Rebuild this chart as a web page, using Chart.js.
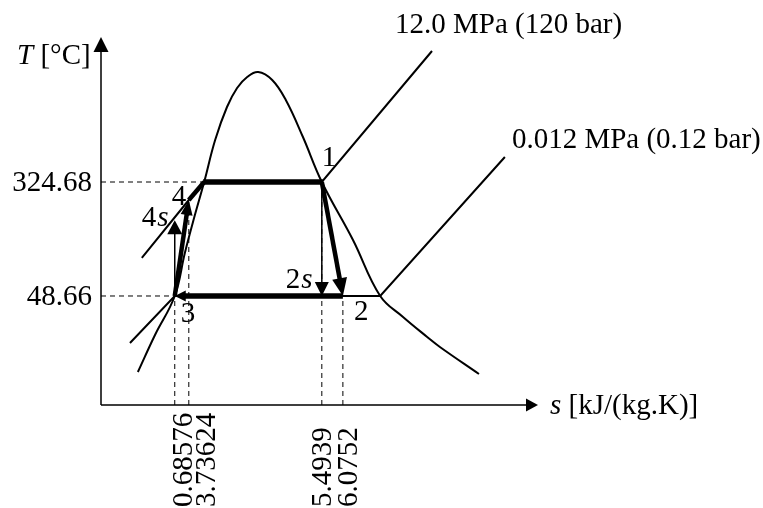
<!DOCTYPE html>
<html>
<head>
<meta charset="utf-8">
<script src="https://cdn.jsdelivr.net/npm/chart.js@4.4.1/dist/chart.umd.min.js"></script>
<style>
  html, body { margin: 0; padding: 0; background: #fff; }
  #wrap { width: 763px; height: 508px; position: relative; }
</style>
</head>
<body>
<div id="wrap"><canvas id="c"></canvas></div>
<script>
// schematic T-s diagram, x = schematic entropy position, y = temperature in °C
const domeS = [8.4, 12.3, 16.8, 19.1, 21.2, 23.5, 26.0, 28.7, 31.0, 33.3, 35.8, 39.0, 42.1, 46.0, 50.3, 57.4, 63.6, 68.8, 74.3, 77.2, 86.1];
const domeT = [-135.4, -45.8, 48.66, 152.8, 237.5, 324.68, 426.4, 506.3, 552.3, 578.9, 591.0, 571.7, 523.2, 433.6, 324.68, 184.2, 48.66, -2.2, -50.6, -74.8, -140.2];

const highPS = [9.3, 20.0, 23.5, 50.3, 75.4];
const highPT = [140.7, 281.1, 324.68, 324.68, 641.9];
const lowPS = [6.6, 16.8, 63.6, 92.0];
const lowPT = [-65.1, 48.66, 48.66, 385.2];

const stateNames = ['1', '2s', '2', '3', '4s', '4'];
const stateS = [50.3, 50.3, 55.1, 16.8, 16.8, 20.0];
const stateT = [324.68, 48.66, 48.66, 48.66, 232.0, 281.1];

// processes drawn as arrows (state index from -> to)
const arrowFrom = [0, 0, 2, 3, 3];
const arrowTo = [2, 1, 3, 5, 4];

const tempTicks = [48.66, 324.68];
const tempTickEndS = [16.8, 23.5];
const entropyTickPos = [16.8, 20.0, 50.3, 55.1];
const entropyTickLabels = ['0.68576', '3.73624', '5.4939', '6.0752'];
const entropyTickEndT = [48.66, 281.1, 324.68, 48.66];

const highPLabel = '12.0 MPa (120 bar)';
const lowPLabel = '0.012 MPa (0.12 bar)';

const Y_MIN = -215.3, Y_MAX = 675.8;
const FONT = '"Liberation Serif", "Times New Roman", serif';
const FS = '29px ';

const pts = (xs, ys) => xs.map((x, i) => ({ x: x, y: ys[i] }));

const lineDs = (data, extra) => Object.assign({
  data: data, showLine: true, pointRadius: 0, borderColor: '#000',
  borderWidth: 2, tension: 0, fill: false
}, extra || {});

const datasets = [
  lineDs(pts(domeS, domeT), { tension: 0.4 }),
  lineDs(pts(highPS, highPT)),
  lineDs(pts(lowPS, lowPT))
];
tempTicks.forEach((t, i) => {
  datasets.push(lineDs([{ x: 0, y: t }, { x: tempTickEndS[i], y: t }], { borderWidth: 1, borderDash: [5, 4] }));
});
entropyTickPos.forEach((s, i) => {
  datasets.push(lineDs([{ x: s, y: Y_MIN }, { x: s, y: entropyTickEndT[i] }], { borderWidth: 1, borderDash: [5, 4] }));
});

// style for each arrow: line width, head length, head width
const arrowStyle = [
  { lw: 4.5, len: 18, w: 15 },
  { lw: 1.5, len: 14, w: 14 },
  { lw: 5.5, len: 11, w: 11 },
  { lw: 4.5, len: 15, w: 12 },
  { lw: 1.5, len: 14, w: 15 }
];
// label offsets (pixels) from each state point
const stateLabelOffset = [[0, -16], [-36, -8], [11, 24], [6, 26], [-33, 6], [-17, 5]];
const tickLabelShift = [7, 16, -1, 4];

function drawArrow(ctx, x0, y0, x1, y1, st) {
  const a = Math.atan2(y1 - y0, x1 - x0);
  const c = Math.cos(a), s = Math.sin(a);
  const bx = x1 - st.len * c, by = y1 - st.len * s;
  ctx.lineWidth = st.lw;
  ctx.lineCap = 'butt';
  ctx.beginPath();
  ctx.moveTo(x0, y0);
  ctx.lineTo(bx + c * 2, by + s * 2);
  ctx.stroke();
  ctx.beginPath();
  ctx.moveTo(x1, y1);
  ctx.lineTo(bx - s * st.w / 2, by + c * st.w / 2);
  ctx.lineTo(bx + s * st.w / 2, by - c * st.w / 2);
  ctx.closePath();
  ctx.fill();
}

function drawLabel(ctx, text, x, y) {
  // digits upright, trailing "s" in italics
  const m = text.match(/^(\d)(s?)$/);
  ctx.font = FS + FONT;
  ctx.fillText(m[1], x, y);
  if (m[2]) {
    const w = ctx.measureText(m[1]).width;
    ctx.font = 'italic ' + FS + FONT;
    ctx.fillText('s', x + w + 1, y);
  }
}

const diagramPlugin = {
  id: 'diagram',
  afterDatasetsDraw(chart) {
    const ctx = chart.ctx;
    const xs = chart.scales.x, ys = chart.scales.y;
    const X = v => xs.getPixelForValue(v);
    const Y = v => ys.getPixelForValue(v);
    const area = chart.chartArea;
    ctx.save();
    ctx.strokeStyle = '#000';
    ctx.fillStyle = '#000';

    // heavy constant pressure heat addition 4 -> f -> 1
    ctx.lineWidth = 4.5;
    ctx.beginPath();
    ctx.moveTo(X(stateS[5]), Y(stateT[5]));
    ctx.lineTo(X(highPS[2]), Y(highPT[2]));
    ctx.stroke();
    ctx.lineWidth = 5.5;
    ctx.beginPath();
    ctx.moveTo(X(highPS[2]) - 1, Y(highPT[2]));
    ctx.lineTo(X(stateS[0]) + 1, Y(stateT[0]));
    ctx.stroke();

    arrowFrom.forEach((f, i) => {
      const t = arrowTo[i];
      drawArrow(ctx, X(stateS[f]), Y(stateT[f]), X(stateS[t]), Y(stateT[t]), arrowStyle[i]);
    });

    // axes
    const ox = X(0), oy = Y(Y_MIN);
    ctx.lineWidth = 1.5;
    ctx.beginPath();
    ctx.moveTo(ox, oy);
    ctx.lineTo(ox, area.top + 12);
    ctx.moveTo(ox, oy);
    ctx.lineTo(area.right - 10, oy);
    ctx.stroke();
    ctx.beginPath();
    ctx.moveTo(ox, area.top);
    ctx.lineTo(ox - 7.5, area.top + 15);
    ctx.lineTo(ox + 7.5, area.top + 15);
    ctx.closePath();
    ctx.fill();
    ctx.beginPath();
    ctx.moveTo(area.right - 2, oy);
    ctx.lineTo(area.right - 14, oy - 6.5);
    ctx.lineTo(area.right - 14, oy + 6.5);
    ctx.closePath();
    ctx.fill();

    // axis titles
    ctx.textBaseline = 'alphabetic';
    ctx.textAlign = 'left';
    ctx.font = 'italic ' + FS + FONT;
    ctx.fillText('T', 17, 64);
    let w = ctx.measureText('T').width;
    ctx.font = FS + FONT;
    ctx.fillText(' [°C]', 17 + w, 64);

    ctx.font = 'italic ' + FS + FONT;
    ctx.fillText('s', area.right + 10, oy + 9);
    w = ctx.measureText('s').width;
    ctx.font = FS + FONT;
    ctx.fillText(' [kJ/(kg.K)]', area.right + 10 + w, oy + 9);

    // temperature ticks
    ctx.textAlign = 'right';
    tempTicks.forEach(t => {
      ctx.fillText(t.toFixed(2), ox - 9, Y(t) + 9);
    });

    // entropy ticks, rotated
    entropyTickPos.forEach((s, i) => {
      ctx.save();
      ctx.translate(X(s) + tickLabelShift[i] + 10, 507);
      ctx.rotate(-Math.PI / 2);
      ctx.textAlign = 'left';
      ctx.fillText(entropyTickLabels[i], 0, 0);
      ctx.restore();
    });

    // isobar labels
    ctx.textAlign = 'left';
    const hi = highPS.length - 1, lo = lowPS.length - 1;
    ctx.fillText(highPLabel, X(highPS[hi]) - 37, Y(highPT[hi]) - 18);
    ctx.fillText(lowPLabel, X(lowPS[lo]) + 7, Y(lowPT[lo]) - 9);

    // state labels
    stateNames.forEach((n, i) => {
      drawLabel(ctx, n, X(stateS[i]) + stateLabelOffset[i][0], Y(stateT[i]) + stateLabelOffset[i][1]);
    });
    ctx.restore();
  }
};

new Chart(document.getElementById('c'), {
  type: 'scatter',
  data: { datasets: datasets },
  options: {
    responsive: true,
    maintainAspectRatio: false,
    animation: false,
    layout: { padding: { left: 101, top: 37, right: 223, bottom: 103 } },
    plugins: { legend: { display: false }, tooltip: { enabled: false } },
    scales: {
      x: { type: 'linear', min: 0, max: 100, display: false },
      y: { type: 'linear', min: Y_MIN, max: Y_MAX, display: false }
    }
  },
  plugins: [diagramPlugin]
});
</script>
</body>
</html>
